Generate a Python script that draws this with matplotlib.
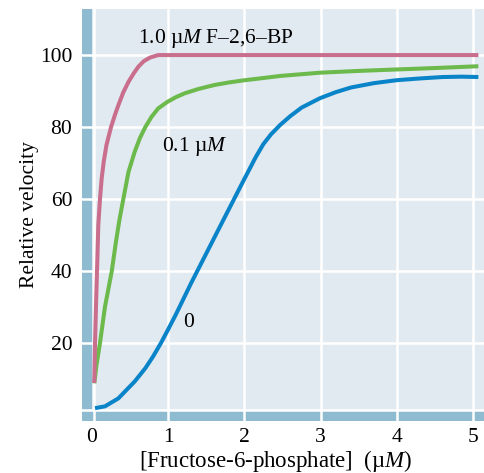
import numpy as np
import matplotlib.pyplot as plt

plt.rcParams['font.family'] = ['Liberation Serif', 'DejaVu Serif']
plt.rcParams['mathtext.fontset'] = 'custom'
plt.rcParams['mathtext.rm'] = 'Liberation Serif'
plt.rcParams['mathtext.it'] = 'Liberation Serif:italic'

# values
x_pink = [0.03, 0.04, 0.055, 0.066, 0.083, 0.105, 0.127, 0.155, 0.19, 0.25, 0.3, 0.345, 0.41, 0.48, 0.55, 0.61, 0.68, 0.76, 0.87, 1.2, 2.0, 3.0, 4.0, 5.07]
y_pink = [8.9, 20, 32, 40, 52.8, 60, 65.7, 70.5, 75, 80, 83.3, 86, 89.6, 92.6, 95, 96.8, 98.3, 99.3, 100, 100, 100, 100, 100, 100]

x_green = [0.03, 0.06, 0.105, 0.17, 0.26, 0.31, 0.36, 0.42, 0.48, 0.56, 0.63, 0.70, 0.78, 0.87, 0.99, 1.1, 1.22, 1.4, 1.61, 1.8, 2.0, 2.2, 2.47, 2.7, 2.99, 3.5, 4.0, 4.5, 5.07]
y_green = [8.8, 14, 20, 30, 40, 47.5, 54.2, 61, 67.6, 73.1, 77, 80, 82.8, 85.2, 87, 88.3, 89.4, 90.6, 91.7, 92.4, 93, 93.5, 94.2, 94.6, 95.1, 95.6, 96, 96.4, 96.9]

x_blue = [0.04, 0.17, 0.345, 0.56, 0.7, 0.8, 0.905, 1.0, 1.1, 1.3, 1.5, 1.7, 1.85, 2.0, 2.15, 2.25, 2.35, 2.47, 2.6, 2.75, 2.99, 3.2, 3.4, 3.7, 3.99, 4.3, 4.6, 4.85, 5.07]
y_blue = [1.9, 2.4, 4.6, 9.3, 13, 16.2, 20, 23.8, 27.9, 36.6, 44.9, 53.2, 59.4, 65.6, 71.7, 75.3, 78, 80.6, 83, 85.4, 88, 89.7, 91, 92.2, 93, 93.5, 93.9, 94, 93.9]

x_ticks = [0, 1, 2, 3, 4, 5]
y_ticks = [20, 40, 60, 80, 100]

bg = '#e1e9f1'
band = '#8fbbd1'

fig = plt.figure(figsize=(4.84, 4.73), dpi=100)
ax = fig.add_axes([82 / 484, 52 / 473, 402 / 484, 412 / 473])
ax.set_xlim(-0.131, 5.144)
ax.set_ylim(-1.67, 112.8)
ax.set_facecolor(bg)

# side bands
ax.axvspan(-0.131, 0.005, color=band, lw=0, zorder=0.5)
ax.axhspan(-1.67, 1.1, color=band, lw=0, zorder=0.5)
ax.axvline(0.02, color='white', lw=1.8, zorder=1)
ax.axhline(1.5, color='white', lw=1.8, zorder=1)
for v in x_ticks[1:]:
    ax.axvline(v, color='white', lw=1.8, zorder=1)
for v in y_ticks:
    ax.axhline(v, color='white', lw=1.8, zorder=1)

ax.plot(x_blue, y_blue, color='#0a84c8', lw=2.9, zorder=2, solid_capstyle='butt')
ax.plot(x_green, y_green, color='#6cb94c', lw=2.9, zorder=2.1, solid_capstyle='butt')
ax.plot(x_pink, y_pink, color='#c96e8c', lw=2.9, zorder=2.2, solid_capstyle='butt')

ax.text(1.63, 104.7, '1.0 µ$M$ F–2,6–BP', fontsize=15.5, ha='center', va='center')
ax.text(1.35, 74.7, '0.1 µ$M$', fontsize=15.5, ha='center', va='center')
ax.text(1.27, 25.6, '0', fontsize=15.5, ha='center', va='center')

for s in ax.spines.values():
    s.set_visible(False)
ax.set_xticks(x_ticks)
ax.set_yticks(y_ticks)
ax.tick_params(length=0, labelsize=15.5)
ax.tick_params(axis='y', pad=7)
ax.tick_params(axis='x', pad=5)
ax.set_xlabel('[Fructose-6-phosphate]  (µ$M$)', fontsize=16.5, labelpad=1)
ax.xaxis.label.set_x(0.483)
ax.set_ylabel('Relative velocity', fontsize=15.5, labelpad=1)

fig.savefig('out.png', dpi=100)
